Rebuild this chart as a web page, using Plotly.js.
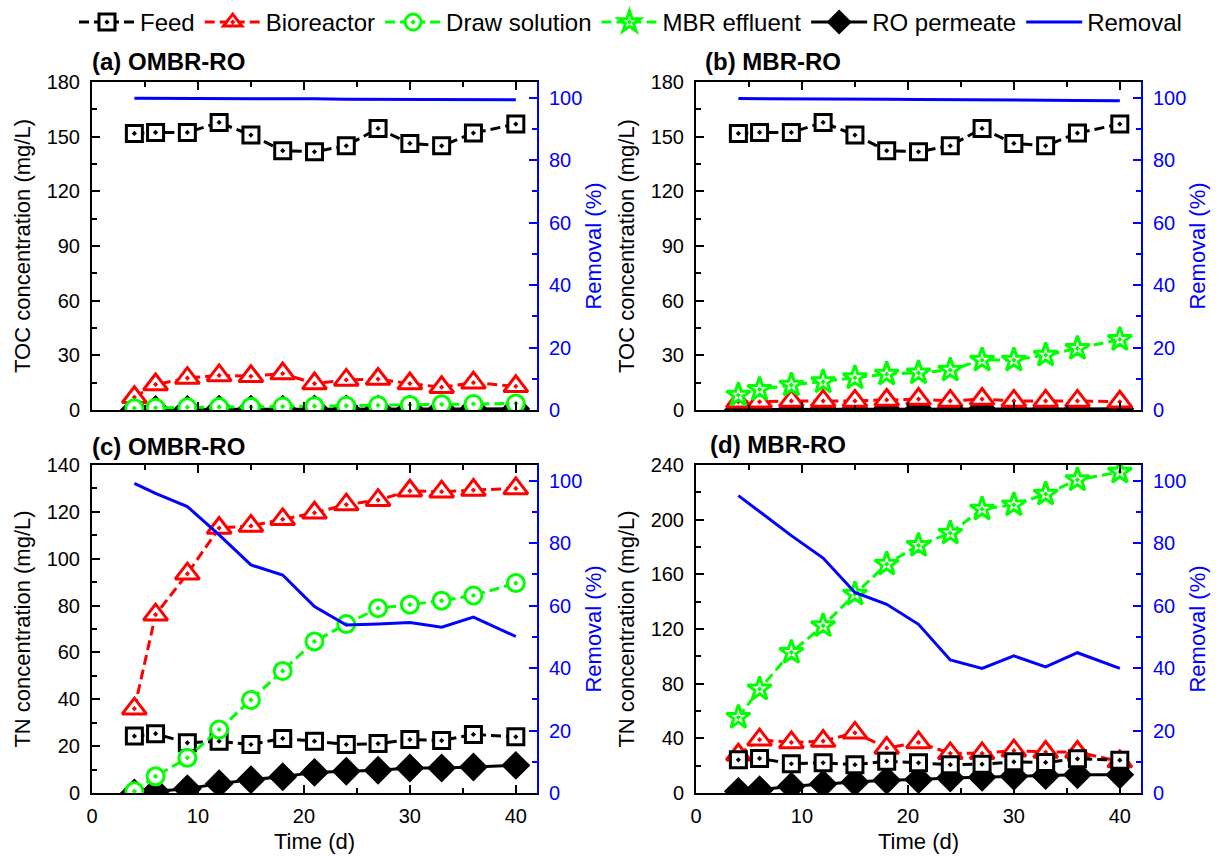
<!DOCTYPE html>
<html><head><meta charset="utf-8">
<script src="https://cdn.plot.ly/plotly-3.0.1.min.js"></script>
<style>body{margin:0;background:#fff;}#chart{width:1219px;height:861px;}</style>
</head><body><div id="chart"></div>
<script>
// ---------- data ----------
const days = [4, 6, 9, 12, 15, 18, 21, 24, 27, 30, 33, 36, 40];

// TOC (mg/L) and removal (%)
const tocFeed = [151.8, 152.3, 152.3, 157.8, 150.9, 142.3, 141.7, 145.0, 154.5, 146.3, 145.0, 152.0, 156.9];
const tocBioreactorOMBR = [7.0, 14.0, 17.5, 19.0, 18.5, 20.0, 14.5, 16.5, 17.0, 14.5, 12.5, 15.0, 13.0];
const tocDrawOMBR = [1.0, 1.2, 1.5, 1.6, 1.7, 1.9, 2.1, 2.3, 2.6, 2.8, 3.1, 3.3, 3.6];
const tocPermeateOMBR = [0.2, 0.3, 0.3, 0.4, 0.4, 0.4, 0.5, 0.5, 0.5, 0.6, 0.6, 0.6, 0.7];
const tocRemovalOMBR = [99.8, 99.8, 99.7, 99.7, 99.6, 99.6, 99.6, 99.5, 99.5, 99.5, 99.4, 99.4, 99.3];

const tocBioreactorMBR = [4.5, 4.5, 5.0, 5.0, 5.0, 5.5, 6.0, 5.0, 6.0, 5.0, 5.0, 5.0, 4.5];
const tocEffluentMBR = [8.2, 11.3, 13.7, 15.5, 17.7, 19.7, 20.4, 21.9, 27.4, 27.4, 30.1, 33.8, 38.7];
const tocPermeateMBR = [0.2, 0.3, 0.3, 0.4, 0.4, 0.4, 0.5, 0.5, 0.5, 0.6, 0.6, 0.6, 0.7];
const tocRemovalMBR = [99.7, 99.7, 99.6, 99.6, 99.5, 99.5, 99.4, 99.3, 99.3, 99.2, 99.2, 99.1, 99.0];

// TN (mg/L) and removal (%)
const tnFeed = [24.3, 25.3, 21.4, 22.1, 20.7, 23.3, 22.1, 20.7, 21.1, 22.8, 22.4, 25.0, 24.0];
const tnBioreactorOMBR = [36.0, 76.1, 93.6, 113.1, 114.0, 116.8, 119.6, 123.1, 125.0, 129.0, 128.6, 129.3, 130.0];
const tnDrawOMBR = [0.7, 7.1, 15.0, 27.1, 39.7, 52.1, 64.7, 72.1, 78.9, 80.4, 82.1, 84.3, 89.6];
const tnPermeateOMBR = [0.0, 0.7, 1.8, 4.0, 5.7, 6.9, 8.8, 9.3, 9.7, 10.7, 10.7, 11.1, 11.8];
const tnRemovalOMBR = [99.1, 95.9, 91.7, 82.6, 73.0, 69.8, 59.7, 53.8, 54.1, 54.6, 53.1, 56.3, 50.1];

const tnBioreactorMBR = [28.0, 39.0, 37.0, 38.0, 44.0, 33.0, 37.0, 29.0, 29.0, 31.0, 30.0, 30.0, 23.0];
const tnEffluentMBR = [55.4, 76.1, 102.9, 122.4, 145.5, 167.5, 181.2, 190.2, 207.7, 210.9, 218.7, 229.2, 234.8];
const tnPermeateMBR = [1.2, 2.4, 4.9, 6.6, 8.0, 9.3, 9.8, 11.0, 11.5, 12.2, 12.7, 13.4, 13.4];
const tnRemovalMBR = [95.2, 90.0, 82.4, 75.2, 64.2, 60.4, 54.0, 42.6, 39.9, 43.9, 40.4, 44.9, 39.9];

const seriesNames = ['Feed', 'Bioreactor', 'Draw solution', 'MBR effluent', 'RO permeate', 'Removal'];
const panelTitles = ['(a) OMBR-RO', '(b) MBR-RO', '(c) OMBR-RO', '(d) MBR-RO'];

// ---------- styles ----------
const FONT = 'Liberation Sans, Arial, Helvetica, sans-serif';
const BLUE = '#0000ff', RED = '#ff0000', GREEN = '#00ff00', BLACK = '#000000';
const DASH = '10px,5px';
const W = 1219, H = 861;
const px = v => v / W;
const py = v => 1 - v / H;

const styles = {
  'Feed':          {symbol: 'square-dot', size: 16, fill: '#ffffff', color: BLACK, dash: DASH, rank: 1},
  'Bioreactor':    {symbol: 'triangle-up-dot', size: 21, fill: '#ffffff', color: RED, dash: DASH, rank: 2},
  'Draw solution': {symbol: 'circle-dot', size: 17, fill: '#ffffff', color: GREEN, dash: DASH, rank: 3},
  'MBR effluent':  {symbol: 'star-dot', size: 18, fill: '#ffffff', color: GREEN, dash: DASH, rank: 4},
  'RO permeate':   {symbol: 'diamond', size: 19, fill: BLACK, color: BLACK, dash: 'solid', rank: 5},
};

const shown = {};
function mk(name, y, xa, ya) {
  const s = styles[name];
  const show = !shown[name]; shown[name] = true;
  return {
    x: days, y: y, xaxis: xa, yaxis: ya, name: name, type: 'scatter', mode: 'lines+markers',
    legendrank: s.rank, showlegend: show,
    line: {color: s.color, width: 3, dash: s.dash},
    marker: {symbol: s.symbol, size: s.size, color: s.fill, line: {color: s.color, width: 3}}
  };
}
function removal(y, xa, ya) {
  const show = !shown['Removal']; shown['Removal'] = true;
  return {x: days, y: y, xaxis: xa, yaxis: ya, name: 'Removal', type: 'scatter', mode: 'lines',
    legendrank: 6, showlegend: show, line: {color: BLUE, width: 3}};
}

const traces = [
  // (a)
  mk('RO permeate', tocPermeateOMBR, 'x', 'y'),
  mk('Bioreactor', tocBioreactorOMBR, 'x', 'y'),
  mk('Feed', tocFeed, 'x', 'y'),
  mk('Draw solution', tocDrawOMBR, 'x', 'y'),
  removal(tocRemovalOMBR, 'x', 'y2'),
  // (b)
  mk('RO permeate', tocPermeateMBR, 'x2', 'y3'),
  mk('Bioreactor', tocBioreactorMBR, 'x2', 'y3'),
  mk('Feed', tocFeed, 'x2', 'y3'),
  mk('MBR effluent', tocEffluentMBR, 'x2', 'y3'),
  removal(tocRemovalMBR, 'x2', 'y4'),
  // (c)
  mk('RO permeate', tnPermeateOMBR, 'x3', 'y5'),
  mk('Bioreactor', tnBioreactorOMBR, 'x3', 'y5'),
  mk('Feed', tnFeed, 'x3', 'y5'),
  mk('Draw solution', tnDrawOMBR, 'x3', 'y5'),
  removal(tnRemovalOMBR, 'x3', 'y6'),
  // (d)
  mk('RO permeate', tnPermeateMBR, 'x4', 'y7'),
  mk('Bioreactor', tnBioreactorMBR, 'x4', 'y7'),
  mk('Feed', tnFeed, 'x4', 'y7'),
  mk('MBR effluent', tnEffluentMBR, 'x4', 'y7'),
  removal(tnRemovalMBR, 'x4', 'y8'),
];

const domL = [px(92), px(537)], domR = [px(696), px(1141)];
const domTop = [py(410), py(82)], domBot = [py(793), py(465)];

function xAxis(domain, anchor, labels) {
  const a = {domain, anchor, range: [0, 42], showline: true, linecolor: BLACK, linewidth: 2,
    mirror: 'ticks', ticks: 'inside', ticklen: 8, tickwidth: 2, tickcolor: BLACK,
    tick0: 0, dtick: 10, minor: {ticks: 'inside', ticklen: 5, tickwidth: 2, tickcolor: BLACK, dtick: 5},
    showticklabels: labels, tickfont: {size: 20, color: BLACK, family: FONT},
    showgrid: false, zeroline: false, ticklabelstandoff: 4};
  if (labels) a.title = {text: 'Time (d)', font: {size: 22, color: BLACK, family: FONT}, standoff: 8};
  return a;
}
function yLeft(domain, anchor, range, dtick, title) {
  return {domain, anchor, range, showline: true, linecolor: BLACK, linewidth: 2,
    ticks: 'inside', ticklen: 8, tickwidth: 2, tickcolor: BLACK, tick0: 0, dtick,
    minor: {ticks: 'inside', ticklen: 5, tickwidth: 2, tickcolor: BLACK, dtick: dtick / 2},
    tickfont: {size: 20, color: BLACK, family: FONT}, showgrid: false, zeroline: false,
    ticklabelstandoff: 6,
    title: {text: title, font: {size: 22, color: BLACK, family: FONT}, standoff: 10}};
}
function yRight(overlay, anchor) {
  return {overlaying: overlay, anchor, side: 'right', range: [0, 105], showline: true,
    linecolor: BLUE, linewidth: 2, ticks: 'inside', ticklen: 8, tickwidth: 2, tickcolor: BLUE,
    tick0: 0, dtick: 20, minor: {ticks: 'inside', ticklen: 5, tickwidth: 2, tickcolor: BLUE, dtick: 10},
    tickfont: {size: 20, color: BLUE, family: FONT}, showgrid: false, zeroline: false,
    ticklabelstandoff: 6,
    title: {text: 'Removal (%)', font: {size: 22, color: BLUE, family: FONT}, standoff: 4}};
}

const titlePos = [[90, 62], [703, 62], [90, 447], [708, 444]];
const annotations = panelTitles.map((t, i) => ({
  text: '<b>' + t + '</b>', xref: 'paper', yref: 'paper',
  x: px(titlePos[i][0]), y: py(titlePos[i][1]), xanchor: 'left', yanchor: 'middle',
  showarrow: false, font: {size: 24, color: BLACK, family: FONT}
}));

const layout = {
  width: W, height: H, margin: {l: 0, r: 0, t: 0, b: 0}, paper_bgcolor: '#fff', plot_bgcolor: '#fff',
  font: {family: FONT, color: BLACK},
  showlegend: true,
  legend: {orientation: 'h', x: px(74), y: 1, xanchor: 'left', yanchor: 'top',
    font: {size: 24, color: BLACK, family: FONT}, itemwidth: 56, bgcolor: 'rgba(0,0,0,0)',
    traceorder: 'normal'},
  xaxis: xAxis(domL, 'y', false),
  yaxis: yLeft(domTop, 'x', [0, 180], 30, 'TOC concentration (mg/L)'),
  yaxis2: yRight('y', 'x'),
  xaxis2: xAxis(domR, 'y3', false),
  yaxis3: yLeft(domTop, 'x2', [0, 180], 30, 'TOC concentration (mg/L)'),
  yaxis4: yRight('y3', 'x2'),
  xaxis3: xAxis(domL, 'y5', true),
  yaxis5: yLeft(domBot, 'x3', [0, 140], 20, 'TN concentration (mg/L)'),
  yaxis6: yRight('y5', 'x3'),
  xaxis4: xAxis(domR, 'y7', true),
  yaxis7: yLeft(domBot, 'x4', [0, 240], 40, 'TN concentration (mg/L)'),
  yaxis8: yRight('y7', 'x4'),
  annotations
};

Plotly.newPlot('chart', traces, layout, {displayModeBar: false, staticPlot: true});
</script>
</body></html>
